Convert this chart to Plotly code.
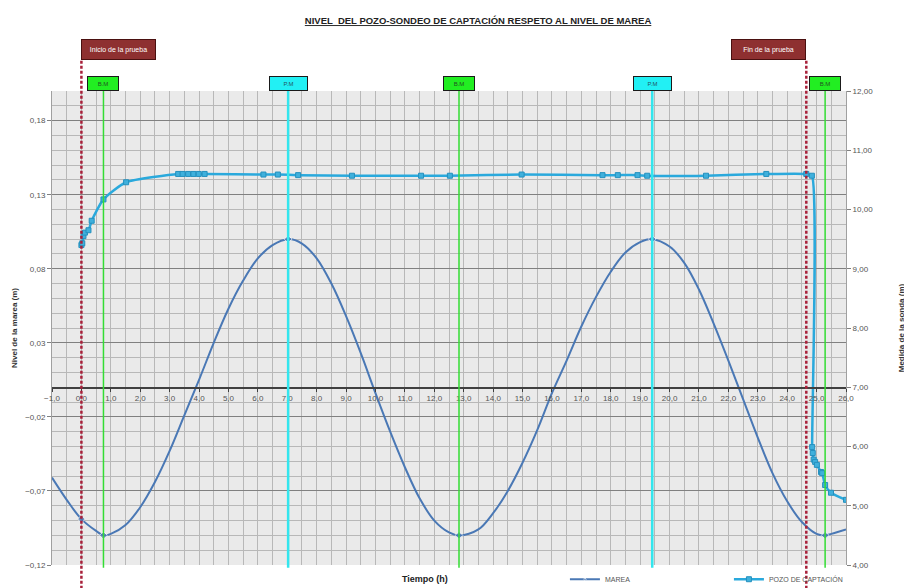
import plotly.graph_objects as go

# Tide (left axis, m), read every half hour
marea_t = [-1, -0.5, 0, 0.5, 0.75, 1, 1.5, 2, 2.5, 3, 3.5, 4, 4.5, 5, 5.5, 6, 6.5, 7.03,
           7.5, 8, 8.5, 9, 9.5, 10, 10.5, 11, 11.5, 12, 12.5, 12.84,
           13.5, 14, 14.5, 15, 15.5, 16, 16.5, 17, 17.5, 18, 18.5, 19, 19.41,
           20, 20.5, 21, 21.5, 22, 22.5, 23, 23.5, 24, 24.5, 25, 25.29, 25.5, 26]
marea_v = [-0.061, -0.076, -0.089, -0.097, -0.100, -0.099, -0.093, -0.081, -0.064, -0.043,
           -0.019, 0.005, 0.030, 0.053, 0.072, 0.087, 0.096, 0.100,
           0.097, 0.087, 0.070, 0.048, 0.023, -0.004, -0.030, -0.054, -0.075, -0.090, -0.098, -0.100,
           -0.096, -0.085, -0.070, -0.051, -0.029, -0.004, 0.018, 0.041, 0.061, 0.078, 0.091, 0.098, 0.100,
           0.095, 0.084, 0.066, 0.043, 0.018, -0.008, -0.034, -0.058, -0.077, -0.091, -0.099, -0.100,
           -0.099, -0.096]
marea_marker_at = [0, 0.75, 7.03, 12.84, 19.41, 25.29]

# Well probe reading (right axis, m)
pozo_t = [0.0, 0.03, 0.07, 0.12, 0.24, 0.35, 0.75, 1.52, 3.29, 3.44, 3.63, 3.81, 3.99, 4.19,
          6.19, 6.68, 7.37, 9.20, 11.55, 12.53, 14.97, 17.72, 18.24, 18.91, 19.24, 21.24,
          23.29, 24.65, 24.84, 24.85, 24.87, 24.90, 24.95, 25.01, 25.15, 25.19, 25.29, 25.49, 26.0]
pozo_v = [9.40, 9.43, 9.55, 9.61, 9.65, 9.81, 10.17, 10.46, 10.60, 10.60, 10.60, 10.60, 10.60, 10.60,
          10.59, 10.59, 10.58, 10.57, 10.57, 10.57, 10.59, 10.58, 10.58, 10.58, 10.57, 10.57,
          10.60, 10.60, 10.57, 5.99, 5.89, 5.78, 5.74, 5.69, 5.57, 5.55, 5.35, 5.22, 5.10]

# Events
inicio_t, fin_t = 0.0, 24.65
bm_t = [0.75, 12.84, 25.29]
pm_t = [7.03, 19.41]

fig = go.Figure()

fig.add_trace(go.Scatter(
    x=marea_t, y=marea_v, name='MAREA', mode='lines+markers',
    line=dict(color='#4A78B5', width=2, shape='spline', smoothing=1),
    marker=dict(symbol='diamond', color='#4A78B5',
                size=[6 if t in marea_marker_at else 0 for t in marea_t]),
))
fig.add_trace(go.Scatter(
    x=pozo_t, y=pozo_v, name='POZO DE CAPTACIÓN', mode='lines+markers', yaxis='y2',
    line=dict(color='#2AA9DC', width=2.5, shape='spline', smoothing=0.6),
    marker=dict(symbol='square', size=5, color='#3FB0DC', line=dict(color='#2590BE', width=1)),
))

# vertical event lines
for t in bm_t:
    fig.add_shape(type='line', xref='x', yref='paper', x0=t, x1=t, y0=-0.006, y1=1.0,
                  line=dict(color='#33DD33', width=1.5))
    fig.add_annotation(x=t, y=1.0, xref='x', yref='paper', text='B.M', showarrow=False,
                       xanchor='center', yanchor='bottom', width=28, height=11,
                       bgcolor='#22EE22', bordercolor='#1a1a1a', borderwidth=1,
                       font=dict(size=6, color='#225522'))
for t in pm_t:
    fig.add_shape(type='line', xref='x', yref='paper', x0=t, x1=t, y0=-0.006, y1=1.0,
                  line=dict(color='#33E6EE', width=2.5))
    fig.add_annotation(x=t, y=1.0, xref='x', yref='paper', text='P.M', showarrow=False,
                       xanchor='center', yanchor='bottom', width=35, height=11,
                       bgcolor='#22F0F4', bordercolor='#1a1a1a', borderwidth=1,
                       font=dict(size=6, color='#225566'))
for t, txt, anc in [(inicio_t, 'Inicio de la prueba', 'left'), (fin_t, 'Fin de la prueba', 'right')]:
    fig.add_shape(type='line', xref='x', yref='paper', x0=t, x1=t, y0=-0.05, y1=1.065,
                  line=dict(color='#A8203A', width=2.5, dash='3px,2px'))
    fig.add_annotation(x=t, y=1.065, xref='x', yref='paper', text=txt, showarrow=False,
                       xanchor=anc, yanchor='bottom', width=71, height=17,
                       bgcolor='#8E3030', bordercolor='#4a1010', borderwidth=1,
                       font=dict(size=7, color='white'))

fig.add_annotation(x=0.47, y=-0.03, xref='paper', yref='paper', text='<b>Tiempo (h)</b>',
                   showarrow=False, yanchor='middle', font=dict(size=9, color='#222'))

font_fam = 'Liberation Sans, Arial'
fig.update_layout(
    width=904, height=580,
    margin=dict(l=44, r=66, t=83, b=23, autoexpand=False),
    paper_bgcolor='white', plot_bgcolor='#EAEAEA',
    separators=',.',
    font=dict(family=font_fam, size=8, color='#555'),
    title=dict(text='<b><u>NIVEL  DEL POZO-SONDEO DE CAPTACIÓN RESPETO AL NIVEL DE MAREA</u></b>',
               x=0.52, xanchor='center', y=0.978, yanchor='middle',
               font=dict(size=9.5, color='#222', family=font_fam)),
    showlegend=True,
    legend=dict(orientation='h', x=0.646, y=-0.03, xanchor='left', yanchor='middle',
                font=dict(size=7, color='#555'), entrywidth=119, entrywidthmode='pixels',
                bgcolor='rgba(0,0,0,0)', itemwidth=30),
    xaxis=dict(range=[-1, 26], dtick=1, tickformat='.1f', anchor='free', position=0.3734,
               showline=True, linecolor='#404040', linewidth=1.5, ticks='outside', ticklen=3,
               tickcolor='#404040', showgrid=True, gridcolor='#B8B8B8', gridwidth=1,
               minor=dict(dtick=0.5, showgrid=True, gridcolor='#B8B8B8', gridwidth=1),
               zeroline=False, tickfont=dict(size=8, color='#555'), automargin=False),
    yaxis=dict(range=[-0.12, 0.20], tick0=-0.12, dtick=0.05, tickformat='.2f',
               showgrid=True, gridcolor='#808080', gridwidth=1, zeroline=False,
               minor=dict(tick0=-0.12, dtick=0.01, showgrid=True, gridcolor='#B8B8B8', gridwidth=1),
               ticks='outside', ticklen=4, tickcolor='#808080', automargin=False,
               showline=True, linecolor='#A0A0A0',
               title=dict(text='<b>Nivel de la marea (m)</b>', font=dict(size=8, color='#333'), standoff=6)),
    yaxis2=dict(range=[4, 12], dtick=1, tickformat='.2f', overlaying='y', side='right',
                showgrid=False, zeroline=False, ticks='outside', ticklen=4, tickcolor='#808080',
                showline=True, linecolor='#A0A0A0', automargin=False,
                title=dict(text='<b>Medida de la sonda (m)</b>', font=dict(size=8, color='#333'), standoff=26)),
)

fig.write_html('out.html')
